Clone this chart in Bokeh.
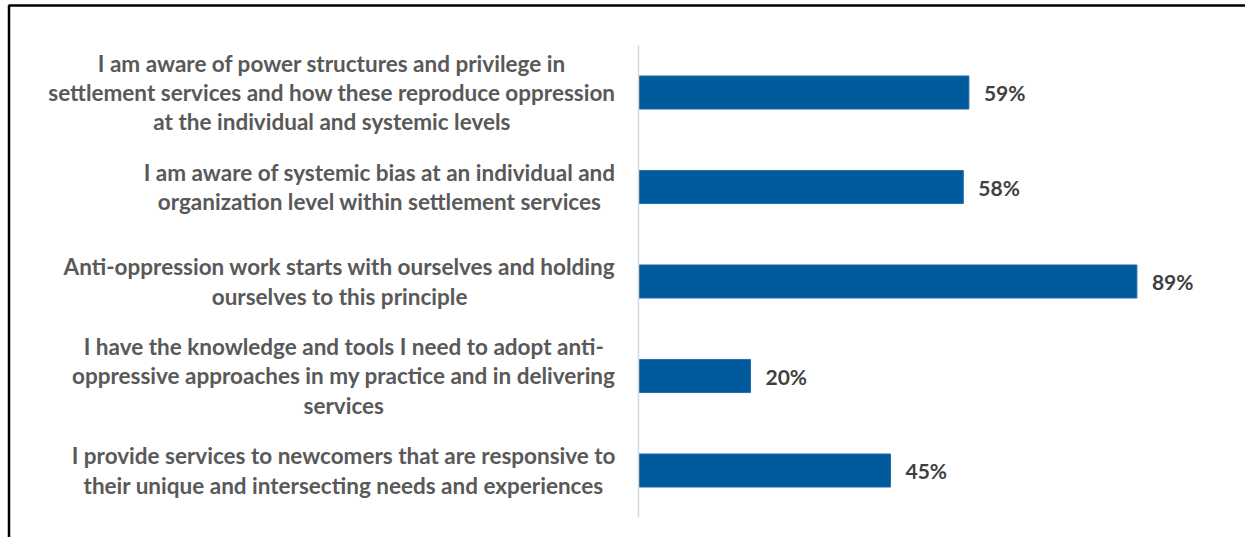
from bokeh.plotting import figure
from bokeh.models import Range1d, BoxAnnotation, ColumnDataSource
from bokeh.core.properties import value
from bokeh.embed import file_html
from bokeh.resources import INLINE

# Survey statements (top to bottom) and share of respondents who agreed
statements = [
    "I am aware of power structures and privilege in\nsettlement services and how these reproduce oppression\nat the individual and systemic levels",
    "I am aware of systemic bias at an individual and\norganization level within settlement services",
    "Anti-oppression work starts with ourselves and holding\nourselves to this principle",
    "I have the knowledge and tools I need to adopt anti-\noppressive approaches in my practice and in delivering\nservices",
    "I provide services to newcomers that are responsive to\ntheir unique and intersecting needs and experiences",
]
shares = [59, 58, 89, 20, 45]
share_labels = [f"{v}%" for v in shares]
rows = list(range(len(statements)))

W, H = 1245, 537
AXIS_PX = 638        # horizontal pixel of the 0% baseline
PX_PER_PCT = 5.6     # pixels per percentage point
ROW_PX = 94.5        # vertical distance between rows
FIRST_ROW_PX = 92    # vertical pixel of the first row's centre


def x_at(px):
    return (px - AXIS_PX) / PX_PER_PCT


def y_at(py):
    return (py - FIRST_ROW_PX) / ROW_PX


src = ColumnDataSource(dict(row=rows, share=shares, label=share_labels, statement=statements))

p = figure(
    width=W, height=H,
    output_backend="svg", toolbar_location=None,
    x_range=Range1d(x_at(0), x_at(W)),
    y_range=Range1d(y_at(H), y_at(0)),
    x_axis_location=None, y_axis_location=None,
    min_border=0,
)
p.grid.visible = False
p.outline_line_color = None
p.background_fill_color = "white"
p.border_fill_color = "white"

# Bars
p.hbar(y="row", left=0, right="share", height=0.35, source=src,
       fill_color="#005a9c", line_color="#1f6fb0", line_width=1)

# Baseline
p.segment(x0=0, y0=-0.5, x1=0, y1=len(rows) - 0.5, line_color="#d9d9d9", line_width=1.5)

# Value labels
p.text(x="share", y="row", text="label", source=src, x_offset=15,
       text_align="left", text_baseline="middle",
       text_font=value("Lato"), text_font_style="bold", text_font_size="21px",
       text_color="#404040")

# Category labels: block anchored at its right edge, lines centred within it
p.text(x=x_at(615), y="row", text="statement", source=src,
       anchor="center_right", text_align="center", text_baseline="middle",
       text_font=value("Lato"), text_font_style="bold", text_font_size="22.5px",
       text_line_height=1.08, text_color="#595959")

# Frame around the chart
p.add_layout(BoxAnnotation(left=x_at(8.5), right=x_at(W + 20), top=y_at(5), bottom=y_at(H + 20),
                           fill_alpha=0, line_color="black", line_alpha=1, line_width=2.5))

open("out.html", "w").write(file_html(p, INLINE))
